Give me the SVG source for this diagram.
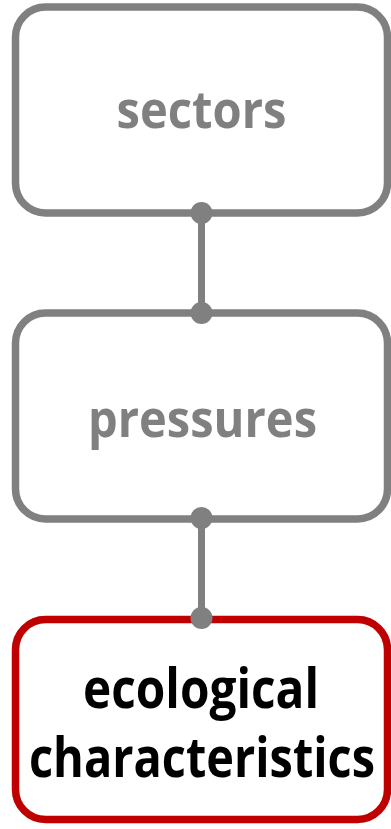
<svg xmlns="http://www.w3.org/2000/svg" width="391" height="829" viewBox="0 0 391 829">
<style>
.box{fill:#fff;stroke-width:7.5}
.g{stroke:#808080}
.r{stroke:#C00000}
.t{font-family:"Open Sans","Liberation Sans",sans-serif;font-weight:bold;text-anchor:middle}
.tg{fill:#808080;font-size:52px}
.tb{fill:#000;font-size:56px}
.dot{fill:#808080}
</style>
<g id="node-sectors">
<rect class="box g" x="15.5" y="7" width="372" height="206" rx="30"/>
<text class="t tg" x="201.5" y="128" textLength="170" lengthAdjust="spacingAndGlyphs">sectors</text>
</g>
<g id="node-pressures">
<rect class="box g" x="15.5" y="313" width="372" height="206" rx="30"/>
<text class="t tg" x="202.5" y="437" textLength="229" lengthAdjust="spacingAndGlyphs">pressures</text>
</g>
<g id="node-ecological">
<rect class="box r" x="15.5" y="619.5" width="372" height="200" rx="30"/>
<text class="t tb" x="201" y="708" textLength="236" lengthAdjust="spacingAndGlyphs">ecological</text>
<text class="t tb" x="202" y="777" textLength="346" lengthAdjust="spacingAndGlyphs">characteristics</text>
</g>
<g id="connectors">
<line x1="201.5" y1="213" x2="201.5" y2="313" stroke="#808080" stroke-width="7"/>
<line x1="201.5" y1="519" x2="201.5" y2="619" stroke="#808080" stroke-width="7"/>
<circle class="dot" cx="201.5" cy="213" r="11"/>
<circle class="dot" cx="201.5" cy="313" r="11"/>
<circle class="dot" cx="201.5" cy="518" r="11"/>
<circle class="dot" cx="201.5" cy="618" r="11"/>
</g>
</svg>
